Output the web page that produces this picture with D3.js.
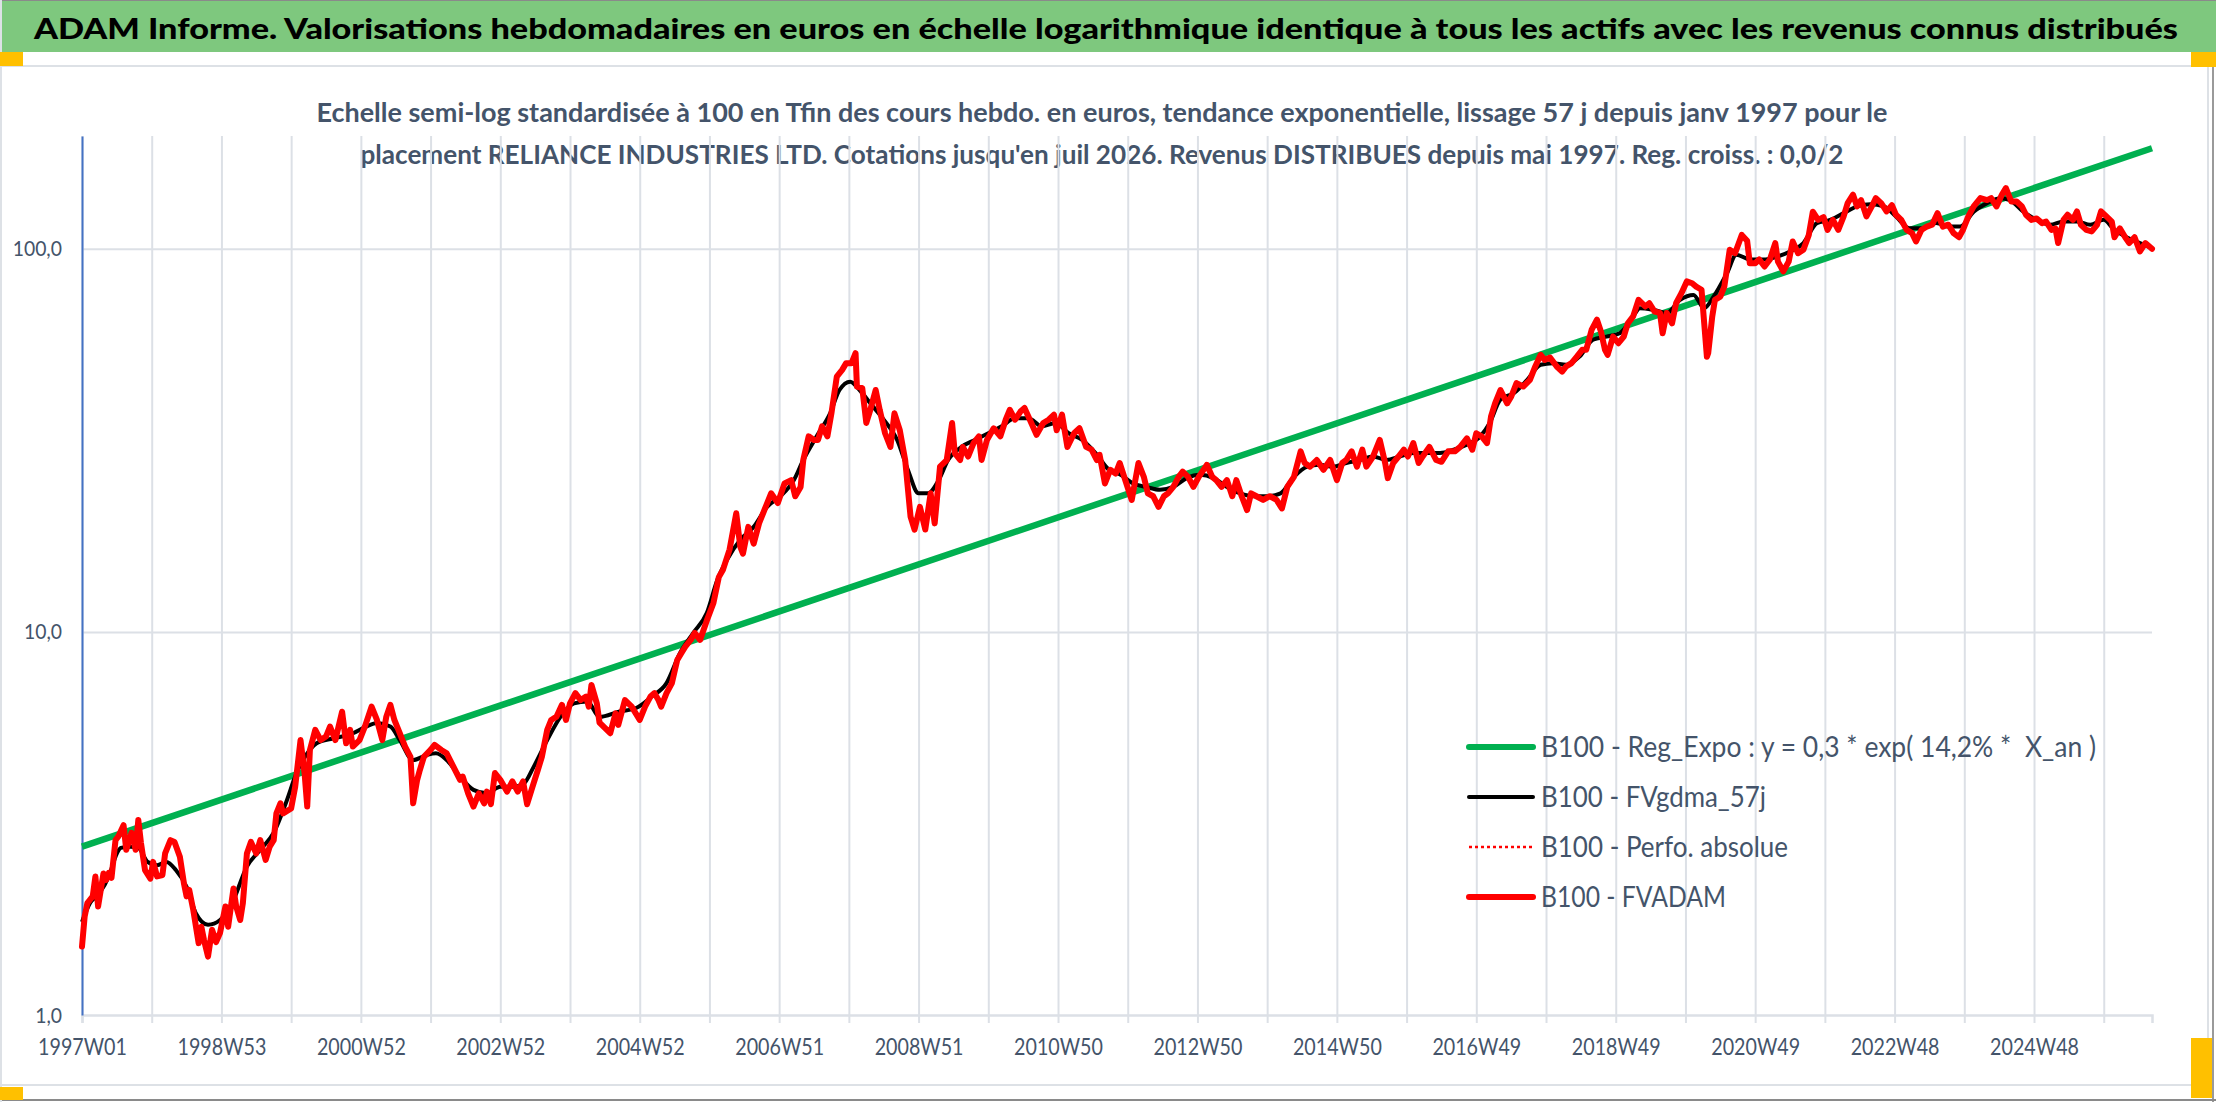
<!DOCTYPE html>
<html>
<head>
<meta charset="utf-8">
<script src="https://cdn.jsdelivr.net/npm/d3@7"></script>
<style>
body { margin: 0; background: #fff; }
svg { display: block; font-family: Lato, "Open Sans", sans-serif; }
</style>
</head>
<body>
<svg id="chart" width="2216" height="1102"></svg>
<script>
const titleText = "ADAM Informe. Valorisations hebdomadaires en euros en échelle logarithmique identique à tous les actifs avec les revenus connus distribués"

const subtitleLines = [
    "Echelle semi-log standardisée à 100 en Tfin des cours hebdo. en euros, tendance exponentielle, lissage 57 j depuis janv 1997 pour le",
    "placement RELIANCE INDUSTRIES LTD. Cotations jusqu'en juil 2026. Revenus DISTRIBUES depuis mai 1997. Reg. croiss. : 0,0/2"
]

// one label every 104 weeks, gridline every 52
const weekLabels = [
    "1997W01", "1998W53", "2000W52", "2002W52", "2004W52", "2006W51", "2008W51", "2010W50",
    "2012W50", "2014W50", "2016W49", "2018W49", "2020W49", "2022W48", "2024W48"
]
const lastWeek = 1544
const yTicks = [1, 10, 100]
const yMax = 197

const legendLabels = [
    "B100 - Reg_Expo : y = 0,3 * exp( 14,2% *  X_an )",
    "B100 - FVgdma_57j",
    "B100 - Perfo. absolue",
    "B100 - FVADAM"
]

// [week index, value]
const regExpo = [[0, 2.75], [1544, 183]]

const fvgdma = [
    [0,1.75],[6,1.96],[13,2.08],[20,2.30],[26,2.64],[29,2.73],[36,2.75],[42,2.73],[49,2.51],[56,2.46],
    [63,2.51],[70,2.39],[78,2.16],[85,1.84],[94,1.72],[103,1.77],[112,1.96],[123,2.44],[133,2.70],[143,2.99],
    [152,3.57],[160,4.28],[168,4.82],[175,5.12],[187,5.27],[200,5.40],[212,5.66],[220,5.78],[230,5.66],[237,5.22],
    [247,4.63],[257,4.77],[264,4.82],[272,4.63],[282,4.19],[292,3.87],[302,3.79],[312,3.94],[321,3.94],[329,4.00],
    [337,4.45],[347,5.22],[357,6.01],[367,6.51],[377,6.58],[386,6.00],[401,6.20],[413,6.32],[425,6.78],[436,7.35],
    [446,8.80],[456,9.94],[466,11.2],[474,13.7],[481,15.4],[491,17.4],[501,18.8],[511,21.2],[521,22.6],[531,24.9],
    [538,28.1],[548,32.4],[558,37.2],[565,42.8],[573,45.0],[580,42.8],[588,39.5],[598,35.8],[608,31.7],[616,26.5],
    [624,23.0],[631,23.0],[639,24.9],[646,28.1],[656,30.4],[666,31.7],[676,33.0],[686,34.4],[696,36.1],[706,36.1],
    [716,34.4],[726,35.1],[736,33.0],[746,31.7],[756,29.3],[766,26.5],[774,25.8],[784,24.4],[794,23.9],[804,23.5],
    [814,23.9],[824,25.2],[834,25.7],[844,25.2],[854,23.9],[864,23.0],[874,22.6],[884,22.6],[894,23.0],[904,25.4],
    [914,27.0],[923,27.3],[933,27.0],[943,27.6],[953,28.1],[963,28.7],[973,28.1],[983,28.7],[993,29.3],[1003,29.3],
    [1013,29.3],[1023,29.9],[1033,30.8],[1043,32.4],[1050,35.1],[1058,40.4],[1068,42.0],[1078,45.5],[1088,49.8],[1097,50.3],
    [1107,49.8],[1117,52.3],[1127,57.9],[1137,59.0],[1147,60.2],[1157,66.6],[1162,70.0],[1172,69.3],[1182,68.0],[1192,73.6],
    [1202,75.8],[1210,70.0],[1217,75.0],[1227,86.4],[1234,96.5],[1244,93.8],[1254,93.8],[1264,95.3],[1274,98.4],[1284,103.5],
    [1294,116.7],[1304,119],[1314,123.9],[1324,129],[1334,130.7],[1344,129],[1353,121.5],[1363,113.1],[1373,113.1],[1383,116.7],
    [1393,114.3],[1401,114.3],[1411,125],[1421,131.6],[1431,135.6],[1438,134],[1448,125],[1458,119],[1468,115.5],[1478,117.8],
    [1488,117.8],[1498,115.5],[1508,119],[1515,113],[1525,107.2],[1535,103.5],[1544,100.4]
]

const fvadam = [
    [0,1.51],[2,1.81],[4,1.96],[8,2.04],[10,2.30],[12,1.92],[16,2.34],[18,2.25],[20,2.35],[22,2.28],
    [25,2.86],[27,2.92],[31,3.13],[33,2.70],[37,2.99],[40,2.70],[42,3.23],[44,2.81],[47,2.39],[51,2.27],
    [53,2.51],[56,2.30],[60,2.32],[62,2.64],[66,2.86],[69,2.83],[73,2.59],[76,2.21],[78,2.04],[80,2.12],
    [83,1.88],[87,1.54],[89,1.70],[91,1.57],[94,1.42],[97,1.67],[100,1.55],[103,1.64],[107,1.92],[109,1.70],
    [113,2.14],[115,1.92],[118,1.77],[120,1.96],[123,2.64],[126,2.83],[130,2.64],[133,2.86],[137,2.54],[140,2.75],
    [143,2.86],[145,3.36],[148,3.57],[150,3.36],[156,3.46],[159,3.94],[163,5.22],[166,4.28],[168,3.50],[170,4.92],
    [174,5.55],[178,5.22],[182,5.33],[185,5.66],[189,5.22],[194,6.19],[197,5.12],[200,5.55],[202,5.02],[207,5.22],
    [211,5.66],[216,6.38],[220,5.89],[224,5.22],[227,6.01],[230,6.45],[233,5.89],[237,5.44],[241,5.02],[245,4.72],
    [247,3.57],[250,4.11],[252,4.36],[255,4.72],[260,4.92],[263,5.07],[268,4.92],[272,4.82],[277,4.45],[282,4.11],
    [284,4.19],[288,3.79],[292,3.50],[296,3.79],[300,3.57],[302,3.83],[305,3.55],[308,4.28],[312,4.11],[317,3.83],
    [321,4.07],[325,3.83],[329,4.07],[332,3.55],[336,3.94],[340,4.36],[343,4.72],[347,5.55],[350,5.89],[354,6.01],
    [358,6.45],[361,5.89],[364,6.51],[368,6.92],[372,6.64],[376,6.78],[378,6.38],[380,7.27],[384,6.51],[386,5.80],
    [394,5.44],[398,6.13],[400,5.72],[405,6.64],[410,6.38],[416,5.89],[420,6.38],[424,6.78],[427,6.92],[430,6.64],
    [432,6.38],[436,6.92],[440,7.35],[444,8.45],[447,8.80],[450,9.15],[454,9.53],[457,9.94],[461,9.53],[466,10.7],
    [471,11.9],[475,13.9],[478,14.5],[483,16.4],[488,20.4],[491,16.7],[493,16.0],[497,18.8],[501,17.0],[505,19.2],
    [508,20.4],[514,23.0],[519,21.7],[524,24.4],[529,24.9],[532,22.6],[536,23.9],[538,28.1],[542,32.4],[546,31.7],
    [549,31.7],[552,34.4],[556,32.4],[559,37.2],[563,46.4],[567,48.3],[570,50.3],[574,50.3],[577,53.4],[578,43.7],
    [582,43.3],[585,35.1],[588,38.0],[592,42.8],[595,38.0],[599,33.0],[603,30.4],[606,37.2],[610,33.6],[614,28.1],
    [618,20.0],[621,18.5],[625,21.2],[629,18.5],[633,23.0],[636,19.2],[640,27.0],[645,28.1],[649,35.1],[651,29.3],
    [655,28.1],[657,30.4],[661,28.7],[665,31.1],[669,32.4],[671,28.1],[675,31.7],[680,34.0],[685,32.4],[689,35.8],
    [692,38.0],[696,35.8],[700,37.6],[703,38.4],[707,35.8],[712,32.7],[717,35.1],[721,35.8],[725,36.9],[727,33.6],
    [731,36.9],[735,30.4],[740,33.0],[744,34.0],[749,30.4],[753,29.9],[757,28.1],[759,29.0],[763,24.4],[767,26.5],
    [771,25.9],[774,27.6],[779,24.4],[783,22.1],[788,27.6],[792,25.4],[795,23.0],[799,22.6],[803,21.2],[807,22.6],
    [810,23.0],[814,23.9],[818,25.4],[821,26.2],[825,25.4],[829,23.9],[833,25.4],[839,27.3],[843,25.4],[846,24.9],
    [850,23.9],[854,24.9],[858,22.6],[861,24.9],[865,22.6],[869,20.8],[872,23.0],[876,22.6],[881,22.1],[886,22.6],
    [891,22.1],[895,21.0],[899,23.9],[904,25.4],[909,29.6],[912,27.6],[916,27.0],[921,28.1],[926,26.5],[931,28.1],
    [936,24.9],[940,27.6],[943,28.1],[947,29.6],[951,27.0],[955,29.9],[958,27.0],[963,28.7],[968,31.7],[972,27.6],
    [974,25.2],[978,27.6],[982,28.7],[986,29.9],[989,28.7],[993,31.1],[997,27.6],[1000,28.7],[1005,30.4],[1010,28.1],
    [1014,27.8],[1019,29.6],[1024,29.6],[1028,30.4],[1033,32.0],[1037,29.9],[1040,33.0],[1044,32.4],[1048,31.1],[1051,36.5],
    [1054,39.5],[1058,42.8],[1063,39.5],[1066,41.1],[1070,44.6],[1075,43.7],[1080,45.5],[1084,49.3],[1088,52.9],[1091,51.3],
    [1095,52.0],[1100,49.3],[1104,47.8],[1107,49.3],[1111,50.3],[1115,52.3],[1119,54.5],[1122,54.5],[1126,61.4],[1130,65.3],
    [1133,60.8],[1136,54.5],[1138,52.9],[1142,59.0],[1146,56.7],[1150,59.0],[1153,63.9],[1157,66.6],[1161,73.6],[1166,70.7],
    [1169,72.1],[1173,68.6],[1177,68.0],[1179,60.2],[1182,68.0],[1186,63.9],[1189,72.1],[1193,76.6],[1197,82.2],[1201,81.3],
    [1204,79.7],[1208,78.2],[1210,63.9],[1212,52.3],[1213,53.5],[1216,66.6],[1218,73.6],[1222,75.0],[1225,79.7],[1229,99.4],
    [1233,97.4],[1238,108.7],[1242,105],[1244,91.7],[1248,91.7],[1251,93.8],[1255,89.9],[1259,93.8],[1263,103.5],[1265,92.6],
    [1269,87.3],[1273,92.6],[1276,104.5],[1280,97.4],[1284,99.4],[1288,108.7],[1291,125],[1295,119],[1299,121],[1302,112],
    [1306,119],[1310,112],[1314,121.5],[1317,131.6],[1321,138.4],[1324,129],[1327,134],[1331,121.5],[1335,129],[1338,135.6],
    [1342,131.6],[1346,125.2],[1350,130],[1353,122.7],[1357,119],[1361,112],[1365,109.9],[1368,104.5],[1372,112],[1376,114.3],
    [1380,115.6],[1384,123.9],[1388,114.3],[1392,115.6],[1396,109.9],[1400,107.2],[1403,112],[1407,121.5],[1411,129],[1416,135.6],
    [1421,134],[1424,135.6],[1428,129],[1432,138.4],[1435,144],[1439,132.9],[1443,132.9],[1447,129],[1450,122.7],[1454,119],
    [1458,120],[1462,116.7],[1465,117.8],[1469,112],[1472,113],[1474,103.5],[1478,119],[1481,122.7],[1485,119],[1488,125.2],
    [1491,115.5],[1495,112],[1499,111],[1503,115.5],[1506,125.2],[1510,121.5],[1514,117.8],[1516,107.2],[1520,113.1],[1524,107.2],
    [1527,103.5],[1531,107.2],[1535,98.4],[1539,103.5],[1544,100]
]

const textColor = "#44546A"
const gridColor = "#DCE0E6"

// the reference uses a narrow font, so glyphs get squeezed to the measured widths
function squeeze(sel, k) {
    sel.each(function() {
        let w = this.getComputedTextLength();
        d3.select(this).attr("textLength", w * k).attr("lengthAdjust", "spacingAndGlyphs");
    });
}
function fitTo(sel, width) {
    sel.attr("textLength", width).attr("lengthAdjust", "spacingAndGlyphs");
}

var drawChart = function() {
    let margin = {top: 136, right: 64, bottom: 87, left: 82};
    let svg = d3.select("#chart");
    let W = +svg.attr("width"), H = +svg.attr("height");
    let plotWidth = W - margin.left - margin.right;
    let plotHeight = H - margin.top - margin.bottom;

    // frame
    svg.append("rect").attr("width", W).attr("height", H).attr("fill", "#fff");
    svg.append("rect").attr("x", 0).attr("y", 0).attr("width", W).attr("height", 52).attr("fill", "#7EC87E");
    svg.append("line").attr("x1", 0).attr("x2", W).attr("y1", 0.5).attr("y2", 0.5).attr("stroke", "#8a8a8a");
    svg.append("line").attr("x1", 0).attr("x2", 2208).attr("y1", 66).attr("y2", 66).attr("stroke", "#DDE1E6").attr("stroke-width", 2);
    svg.append("line").attr("x1", 2208).attr("x2", 2208).attr("y1", 66).attr("y2", 1085).attr("stroke", "#DDE1E6").attr("stroke-width", 2);
    svg.append("line").attr("x1", 0).attr("x2", 2208).attr("y1", 1085).attr("y2", 1085).attr("stroke", "#DDE1E6").attr("stroke-width", 2);
    svg.append("line").attr("x1", 2213).attr("x2", 2213).attr("y1", 52).attr("y2", H).attr("stroke", "#9a9a9a").attr("stroke-width", 2);
    svg.append("line").attr("x1", 0).attr("x2", W).attr("y1", 1100).attr("y2", 1100).attr("stroke", "#8a8a8a").attr("stroke-width", 2);
    svg.append("line").attr("x1", 1).attr("x2", 1).attr("y1", 0).attr("y2", H).attr("stroke", "#DDE1E6").attr("stroke-width", 2);
    let handles = [[0, 52, 23, 14], [2191, 52, 25, 15], [0, 1087, 23, 13], [2191, 1038, 21, 60]];
    svg.selectAll("rect.handle").data(handles).enter().append("rect")
        .attr("class", "handle")
        .attr("x", d => d[0]).attr("y", d => d[1]).attr("width", d => d[2]).attr("height", d => d[3])
        .attr("fill", "#FFC000");

    // titles
    svg.append("text").attr("x", 1106).attr("y", 39).attr("text-anchor", "middle")
        .attr("font-size", 28).attr("font-weight", 900).attr("fill", "#000")
        .text(titleText).call(fitTo, 2144);

    let subWidths = [1571, 1483];
    svg.selectAll("text.sub").data(subtitleLines).enter().append("text")
        .attr("class", "sub")
        .attr("x", 1102).attr("y", (d, i) => 122 + i * 42)
        .attr("text-anchor", "middle").attr("font-size", 26).attr("font-weight", "bold")
        .attr("fill", textColor)
        .text(d => d)
        .each(function(d, i) { d3.select(this).call(fitTo, subWidths[i]); });

    let xScale = d3.scaleLinear().domain([0, lastWeek]).range([0, plotWidth]);
    let yScale = d3.scaleLog().domain([1, yMax]).range([plotHeight, 0]);

    let plot = svg.append("g").attr("id", "plot")
        .attr("transform", "translate(" + margin.left + "," + margin.top + ")");

    // vertical grid
    let gridWeeks = d3.range(0, lastWeek + 1, 52);
    let xGrid = d3.axisBottom(xScale).tickValues(gridWeeks).tickSize(-plotHeight).tickFormat("");
    plot.append("g").attr("class", "grid").attr("transform", "translate(0," + plotHeight + ")").call(xGrid);
    // horizontal grid
    let yGrid = d3.axisLeft(yScale).tickValues(yTicks.slice(1)).tickSize(-plotWidth).tickFormat("");
    plot.append("g").attr("class", "grid").call(yGrid);
    plot.selectAll(".grid .domain").remove();
    plot.selectAll(".grid line").attr("stroke", gridColor).attr("stroke-width", 2);

    // x axis
    let xAxis = d3.axisBottom(xScale).tickValues(gridWeeks).tickSize(8).tickPadding(15)
        .tickFormat(d => d % 104 === 0 ? weekLabels[d / 104] : "");
    let xGroup = plot.append("g").attr("id", "x-axis").attr("transform", "translate(0," + plotHeight + ")").call(xAxis);
    xGroup.select(".domain").attr("stroke", gridColor).attr("stroke-width", 2.5);
    xGroup.selectAll(".tick line").attr("stroke", gridColor).attr("stroke-width", 2);
    xGroup.selectAll("text").attr("font-size", 24).attr("fill", textColor).attr("font-family", "Lato")
        .filter(function() { return this.textContent !== ""; }).call(squeeze, 0.82);

    // y axis
    let yAxis = d3.axisLeft(yScale).tickValues(yTicks).tickSize(0).tickPadding(20)
        .tickFormat(d => d.toFixed(1).replace(".", ","));
    let yGroup = plot.append("g").attr("id", "y-axis").call(yAxis);
    yGroup.select(".domain").attr("stroke", "#4472C4").attr("stroke-width", 2);
    yGroup.selectAll("text").attr("font-size", 22).attr("fill", textColor).attr("font-family", "Lato").call(squeeze, 0.88);

    // series
    let line = d3.line().x(d => xScale(d[0])).y(d => yScale(d[1]));
    plot.append("path").datum(regExpo).attr("d", line)
        .attr("fill", "none").attr("stroke", "#00B050").attr("stroke-width", 6.5);
    plot.append("path").datum(fvgdma).attr("d", line.curve(d3.curveMonotoneX))
        .attr("fill", "none").attr("stroke", "#000").attr("stroke-width", 4).attr("stroke-linejoin", "round");
    plot.append("path").datum(fvadam).attr("d", line.curve(d3.curveLinear))
        .attr("fill", "none").attr("stroke", "#FF0000").attr("stroke-width", 6)
        .attr("stroke-linejoin", "round").attr("stroke-linecap", "round");

    // legend
    let legendStyles = [
        {color: "#00B050", width: 6, dash: null},
        {color: "#000", width: 4, dash: null},
        {color: "#FF0000", width: 2.5, dash: "3,3"},
        {color: "#FF0000", width: 6, dash: null}
    ];
    let legendWidths = [555, 225, 247, 185];
    let legend = svg.append("g").attr("id", "legend").attr("transform", "translate(1469,747)");
    let items = legend.selectAll("g").data(legendLabels).enter().append("g")
        .attr("transform", (d, i) => "translate(0," + (i * 50) + ")");
    items.append("line").attr("x1", 0).attr("x2", 64).attr("y1", 0).attr("y2", 0)
        .attr("stroke", (d, i) => legendStyles[i].color)
        .attr("stroke-width", (d, i) => legendStyles[i].width)
        .attr("stroke-dasharray", (d, i) => legendStyles[i].dash)
        .attr("stroke-linecap", (d, i) => legendStyles[i].dash ? "butt" : "round");
    items.append("text").attr("x", 72).attr("y", 10)
        .attr("font-size", 28).attr("fill", textColor).style("white-space", "pre")
        .text(d => d)
        .each(function(d, i) { d3.select(this).call(fitTo, legendWidths[i]); });
}

document.fonts.ready.then(drawChart);
</script>
</body>
</html>
